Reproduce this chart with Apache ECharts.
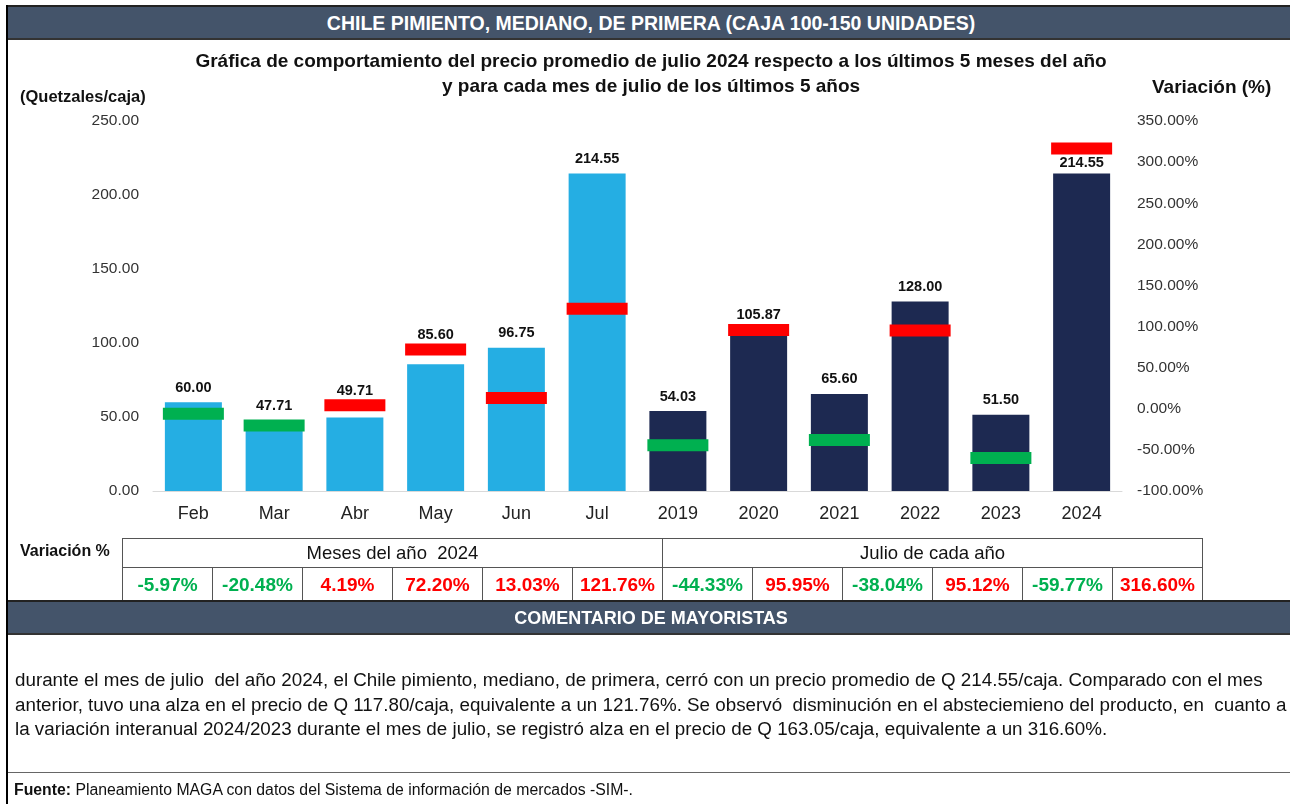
<!DOCTYPE html>
<html>
<head>
<meta charset="utf-8">
<title>Chile pimiento</title>
<script src="https://cdn.jsdelivr.net/npm/echarts@6/dist/echarts.min.js"></script>
<style>
  body { margin: 0; width: 1290px; height: 804px; position: relative; overflow: hidden; background: #fff;
         font-family: 'Liberation Sans', Arial, sans-serif; color: #111; }
  #chart { position: absolute; left: 0; top: 0; width: 1290px; height: 804px; }
  .frame-left { position: absolute; left: 6px; top: 5px; width: 2px; height: 799px; background: #000; }
  .band { position: absolute; left: 8px; width: 1282px; height: 31px; background: #44546a;
          border-top: 2px solid #222; border-bottom: 2px solid #333; color: #fff; font-weight: bold;
          text-align: center; box-sizing: content-box; }
  .band span { position: absolute; top: 50%; transform: translate(-50%, -50%); white-space: nowrap; }
  #head { top: 5px; font-size: 19.5px; }
  #head span { left: 643px; }
  #comment-head { top: 600px; font-size: 18px; }
  #comment-head span { left: 643px; }
  #var-label { position: absolute; left: 20px; top: 542px; font-size: 16px; font-weight: bold; }
  #vartable { position: absolute; left: 122px; top: 538px; border-collapse: collapse; table-layout: fixed; }
  #vartable td { border: 1px solid #555; width: 89px; padding: 0; text-align: center; white-space: nowrap; }
  #vartable tr.h td { height: 28px; font-size: 18.5px; color: #111; }
  #vartable tr.v td { height: 33px; font-size: 19px; font-weight: bold; }
  #comment { position: absolute; left: 15px; top: 668px; font-size: 18.8px; line-height: 24.5px; white-space: nowrap; color: #111; }
  #rule { position: absolute; left: 8px; top: 772px; width: 1282px; height: 1px; background: #666; }
  #source { position: absolute; left: 14px; top: 781px; font-size: 15.8px; color: #111; }
</style>
</head>
<body>
<div id="chart"></div>
<div class="frame-left"></div>
<div class="band" id="head"><span>CHILE PIMIENTO, MEDIANO, DE PRIMERA (CAJA 100-150 UNIDADES)</span></div>
<div id="var-label">Variación %</div>
<table id="vartable"></table>
<div class="band" id="comment-head"><span>COMENTARIO DE MAYORISTAS</span></div>
<div id="comment">
durante el mes de julio&nbsp; del año 2024, el Chile pimiento, mediano, de primera, cerró con un precio promedio de Q 214.55/caja. Comparado con el mes<br>
anterior, tuvo una alza en el precio de Q 117.80/caja, equivalente a un 121.76%. Se observó&nbsp; disminución en el absteciemieno del producto, en&nbsp; cuanto a<br>
la variación interanual 2024/2023 durante el mes de julio, se registró alza en el precio de Q 163.05/caja, equivalente a un 316.60%.
</div>
<div id="rule"></div>
<div id="source"><b>Fuente:</b> Planeamiento MAGA con datos del Sistema de información de mercados -SIM-.</div>

<script>
// datos del gráfico
const categories = ['Feb', 'Mar', 'Abr', 'May', 'Jun', 'Jul', '2019', '2020', '2021', '2022', '2023', '2024']
const prices = [60.00, 47.71, 49.71, 85.60, 96.75, 214.55, 54.03, 105.87, 65.60, 128.00, 51.50, 214.55]
const variation = [-5.97, -20.48, 4.19, 72.20, 13.03, 121.76, -44.33, 95.95, -38.04, 95.12, -59.77, 316.60]
const monthCount = 6
const groupLabels = ['Meses del año&nbsp; 2024', 'Julio de cada año']

const LIGHT = '#25aee3'
const DARK = '#1d2951'
const RED = '#ff0000'
const GREEN = '#00b050'
const LABEL_GAP = 15

// tabla de variaciones
const table = document.getElementById('vartable')
table.innerHTML =
  '<tr class="h"><td colspan="' + monthCount + '">' + groupLabels[0] + '</td>' +
  '<td colspan="' + (categories.length - monthCount) + '">' + groupLabels[1] + '</td></tr>' +
  '<tr class="v">' + variation.map(v =>
    '<td style="color:' + (v < 0 ? GREEN : RED) + '">' + v.toFixed(2) + '%</td>').join('') + '</tr>'

const chart = echarts.init(document.getElementById('chart'))

function barData(offsets) {
  return prices.map((p, i) => ({
    value: p,
    itemStyle: { color: i < monthCount ? LIGHT : DARK },
    label: { offset: [0, offsets ? offsets[i] : 0] }
  }))
}

const font = 'bold 19px "Liberation Sans", Arial'

chart.setOption({
  animation: false,
  grid: { left: 153, right: 168, top: 121, bottom: 313 },
  graphic: [
    {
      type: 'text', x: 651, y: 62,
      style: { text: 'Gráfica de comportamiento del precio promedio de julio 2024 respecto a los últimos 5 meses del año',
        font: font, fill: '#111', align: 'center', verticalAlign: 'middle' }
    },
    {
      type: 'text', x: 651, y: 87,
      style: { text: 'y para cada mes de julio de los últimos 5 años',
        font: font, fill: '#111', align: 'center', verticalAlign: 'middle' }
    },
    {
      type: 'text', x: 20, y: 97,
      style: { text: '(Quetzales/caja)', font: 'bold 16.5px "Liberation Sans", Arial', fill: '#111', verticalAlign: 'middle' }
    },
    {
      type: 'text', x: 1152, y: 88,
      style: { text: 'Variación (%)', font: font, fill: '#111', verticalAlign: 'middle' }
    }
  ],
  xAxis: {
    type: 'category',
    data: categories,
    axisLine: { lineStyle: { color: '#d9d9d9', width: 1 } },
    axisTick: { show: false },
    axisLabel: { fontSize: 18, color: '#222', margin: 14, fontFamily: 'Liberation Sans' }
  },
  yAxis: [
    {
      type: 'value', min: 0, max: 250, interval: 50,
      splitLine: { show: false },
      axisLine: { show: false },
      axisLabel: { fontSize: 15.5, color: '#333', margin: 14, fontFamily: 'Liberation Sans',
        formatter: v => v.toFixed(2) }
    },
    {
      type: 'value', min: -100, max: 350, interval: 50, position: 'right',
      splitLine: { show: false },
      axisLine: { show: false },
      axisLabel: { fontSize: 15.5, color: '#333', margin: 15, fontFamily: 'Liberation Sans',
        formatter: v => v.toFixed(2) + '%' }
    }
  ],
  series: [
    {
      name: 'Precio',
      type: 'bar',
      barWidth: 57,
      data: barData(),
      label: {
        show: true, position: 'top', distance: 7,
        fontSize: 14.5, fontWeight: 'bold', color: '#111', fontFamily: 'Liberation Sans',
        formatter: p => p.value.toFixed(2)
      }
    },
    {
      name: 'Variación',
      type: 'scatter',
      yAxisIndex: 1,
      symbol: 'rect',
      symbolSize: [61, 12],
      z: 5,
      data: variation,
      itemStyle: { color: p => (p.value < 0 ? GREEN : RED), opacity: 1 }
    }
  ]
})

// mover etiquetas que chocan con el marcador de variación
const offsets = prices.map((p, i) => {
  const barTop = chart.convertToPixel({ yAxisIndex: 0 }, p)
  const markY = chart.convertToPixel({ yAxisIndex: 1 }, variation[i])
  const labelY = barTop - LABEL_GAP
  const d = markY - labelY
  if (d > -8 && d < 14) return markY - LABEL_GAP - labelY
  if (d <= -8 && d > -16) return markY + 14 - labelY
  return 0
})
chart.setOption({ series: [{ data: barData(offsets) }] })
</script>
</body>
</html>
